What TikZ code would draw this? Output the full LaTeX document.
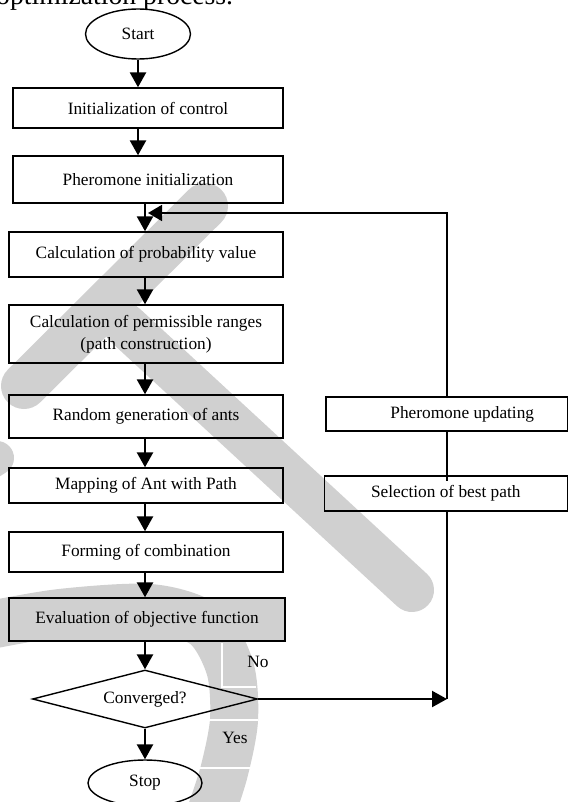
\documentclass[tikz,border=0pt]{standalone}
\usepackage{fontspec}
\setmainfont{Liberation Serif}
\usetikzlibrary{arrows.meta,shapes.geometric,calc}
\definecolor{wm}{RGB}{208,208,208}
\begin{document}
\begin{tikzpicture}[x=1pt,y=-1pt,
  txt/.style={font=\fontsize{17.3}{22}\selectfont},
  box/.style={txt,draw,line width=1.4pt,rectangle,inner sep=0pt,align=center},
  term/.style={txt,draw,line width=1.4pt,ellipse,inner sep=0pt},
  decide/.style={txt,draw,line width=1.4pt,diamond,shape aspect=3.9,inner sep=0pt},
  arr/.style={line width=2.6pt,-{Triangle[length=15pt,width=16pt]}},
  fbline/.style={line width=1.5pt},
  wmband/.style={draw=wm,line cap=round}
]
\useasboundingbox (0,0) rectangle (568,802);
\clip (0,0) rectangle (568,802);

% watermark
\draw[wmband,line width=46] (205,206) -- (24,386);
\draw[wmband,line width=44] (125,325) -- (412,590);
\draw[wmband,line width=34] (-30,475) -- (-3,458);
\draw[wmband,line width=48,line cap=butt] plot[smooth] coordinates {(-20,627) (60,613) (150,608) (205,625) (230,668) (234,720) (224,772) (210,815)};
\draw[white,line width=1.2] (222,643) -- (222,687) -- (256,687);
\draw[white,line width=1.2] (205,720) -- (258,720);
\draw[white,line width=1.2] (193,768) -- (250,768);

% caption fragment
\node[anchor=base west,inner sep=0pt,font=\fontsize{27.7}{30}\selectfont] (cap) at (-4,5) {optimization process.};

% main column
\node[term,minimum width=105,minimum height=50] (start) at (138,34) {Start};
\node[box,minimum width=270,minimum height=40] (init) at (148,108) {Initialization of control};
\node[box,minimum width=270,minimum height=47] (pher) at (148,179.5) {Pheromone initialization};
\node[box,minimum width=274,minimum height=45] (calc) at (146,254.5) {Calculation of probability value};
\node[box,minimum width=274,minimum height=58] (perm) at (146,334) {Calculation of permissible ranges\\(path construction)};
\node[box,minimum width=274,minimum height=43] (rand) at (146,416.5) {Random generation of ants};
\node[box,minimum width=274,minimum height=35] (map) at (146,485.5) {Mapping of Ant with Path};
\node[box,minimum width=274,minimum height=40] (form) at (146,552) {Forming of combination};
\node[box,fill=wm,minimum width=276,minimum height=43] (eval) at (147,619.5) {Evaluation of objective function};
\node[decide,minimum width=225,minimum height=58] (conv) at (145,699) {Converged?};
\node[term,minimum width=114,minimum height=46] (stop) at (145,783) {Stop};

% right column
\node[box,minimum width=241.5,minimum height=34] (upd) at (446.75,414) {\hspace*{31pt}Pheromone updating};
\node[box,minimum width=243,minimum height=35] (sel) at (445.75,493.5) {Selection of best path};

% labels
\node[txt,inner sep=0pt] (no) at (258,662) {No};
\node[txt,inner sep=0pt] (yes) at (235,738) {Yes};

% main arrows
\draw[arr] (start.south) -- (start.south |- init.north);
\draw[arr] (init.south -| start.south) -- (start.south |- pher.north);
\draw[arr] (pher.south -| conv) -- (calc.north -| conv);
\draw[arr] (calc.south -| conv) -- (perm.north -| conv);
\draw[arr] (perm.south -| conv) -- (rand.north -| conv);
\draw[arr] (rand.south -| conv) -- (map.north -| conv);
\draw[arr] (map.south -| conv) -- (form.north -| conv);
\draw[arr] (form.south -| conv) -- (eval.north -| conv);
\draw[arr] (eval.south -| conv) -- (conv.north);
\draw[arr] (conv.south) -- (stop.north);

% feedback loop
\coordinate (j) at (447,699);
\coordinate (fb) at (148,213);
\draw[arr,line width=2.2pt] (conv.east) -- (j);
\draw[fbline] (j) -- (j |- sel.south);
\draw[fbline] (j |- upd.south) -- ($(j |- sel.north)+(0,6)$);
\draw[fbline,line width=1.8pt,-{Triangle[length=14pt,width=16pt]}] (upd.north -| j) |- (fb);
\end{tikzpicture}
\end{document}
